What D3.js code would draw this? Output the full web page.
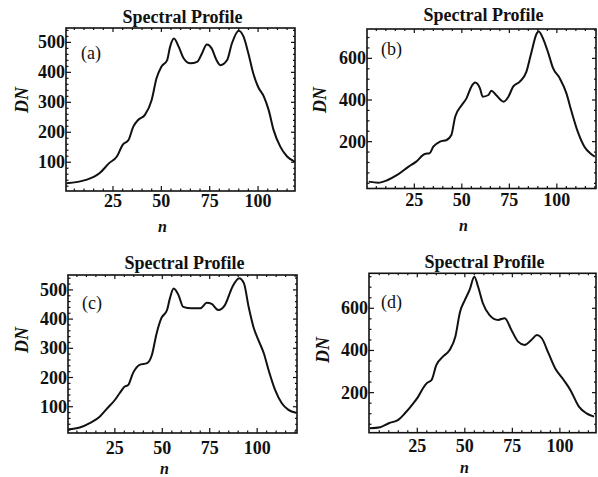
<!DOCTYPE html>
<html><head><meta charset="utf-8">
<script src="https://cdn.jsdelivr.net/npm/d3@7"></script>
<style>body{margin:0;background:#fff}svg{display:block}</style>
</head><body>
<script>
// ---- data ----
const titleText = "Spectral Profile";
const panelLabels = ["(a)", "(b)", "(c)", "(d)"];
const xTicks = [25, 50, 75, 100];
const yTicksSmall = [100, 200, 300, 400, 500];
const yTicksLarge = [200, 400, 600];

const nA = [1,11,18,23,27,30,33,35.5,38,41.5,45,47.5,50,53,54.5,56.5,59,61.5,65,68.5,71,73.5,76,78.5,80.5,84,86.5,90,92.5,95,97.5,100,103,105.5,108,111.5,115,119];
const dnA = [30,41,63,97,119,158,174,219,241,258,308,380,419,441,485,513,485,447,430,435,463,493,480,441,424,441,497,539,519,463,397,352,319,274,208,152,119,102];

const nB = [1,6,11,16,22,26,30.5,33,35,38.5,42,44.5,46.5,50,52.5,55,57,59.5,61,64,65.5,68,72,74.5,77,80.5,84,86.5,89.5,90.5,93,95.5,98,101.5,105,107.5,111,114.5,118,120];
const dnB = [8,3,16,40,80,104,141,144,176,200,208,232,320,376,409,464,484,457,416,424,445,424,392,416,464,488,536,625,721,729,689,625,553,505,433,352,248,176,141,128];

const nC = [0.5,6.5,12,17,20.5,25,27.5,30,32,34.5,38,42,44.5,47,49.5,52.5,54,56,58.5,61,65.5,70,73.5,76,79.5,83,87,90.5,93,95.5,98,101,103.5,106,109.5,113,116.5,120.5];
const dnC = [23,29,45,66,91,123,146,168,174,214,243,249,277,351,403,431,471,505,483,442,437,437,456,452,431,448,511,540,523,442,374,323,283,226,157,112,89,79];

const nD = [0,5.5,10,15,18.5,23,25.5,28,30,32.5,35,38.5,42,45,47.5,50,52.5,55,57,59.5,63,67.5,71,74.5,78,81.5,85,88,90.5,94,97.5,102,105.5,110,114,118];
const dnD = [31,36,55,71,102,150,181,221,245,260,331,371,402,465,584,639,687,750,702,624,568,545,553,497,442,426,450,473,458,387,316,260,213,134,102,86];

// ---- layout ----
const panels = [
  {n:nA, v:dnA, lab:panelLabels[0], xd:[0.7,119.1], xr:[66,295], yd:[4,548], yr:[191,28], yt:yTicksSmall, ym:20,
   titleY:23, xlabY:207, nY:232, dnX:22, dnY:100, plX:81, plY:59},
  {n:nB, v:dnB, lab:panelLabels[1], xd:[0.1,120.6], xr:[367,596], yd:[-25,741], yr:[188.5,29], yt:yTicksLarge, ym:50,
   titleY:21, xlabY:206, nY:231, dnX:320, dnY:100, plX:381, plY:55},
  {n:nC, v:dnC, lab:panelLabels[2], xd:[0.3,121], xr:[68,297], yd:[10,551], yr:[433,275], yt:yTicksSmall, ym:20,
   titleY:269, xlabY:454, nY:474, dnX:22, dnY:340, plX:82, plY:309},
  {n:nD, v:dnD, lab:panelLabels[3], xd:[-0.4,119], xr:[369,596], yd:[10,766], yr:[432.7,273.3], yt:yTicksLarge, ym:50,
   titleY:268, xlabY:452, nY:473, dnX:323, dnY:350, plX:381, plY:308}
];

const svg = d3.select("body").append("svg").attr("width",598).attr("height",477);
const serif = "'Liberation Serif','DejaVu Serif',serif";

panels.forEach(p => {
  const x = d3.scaleLinear().domain(p.xd).range(p.xr);
  const y = d3.scaleLinear().domain(p.yd).range(p.yr);
  const g = svg.append("g");
  const [x0,x1] = p.xr, [y0,y1] = p.yr; // y0 bottom, y1 top

  // minor + major ticks (inward, all four sides)
  const xMinor = d3.range(5, 121, 5).filter(t => t>=p.xd[0] && t<=p.xd[1] && !xTicks.includes(t));
  const yMinor = d3.range(0, 800, p.ym).filter(t => t>=p.yd[0] && t<=p.yd[1] && !p.yt.includes(t));
  const tk = g.append("g").attr("stroke","#111").attr("stroke-width",1.2);
  xTicks.forEach(t => {
    tk.append("line").attr("x1",x(t)).attr("x2",x(t)).attr("y1",y0).attr("y2",y0-5);
    tk.append("line").attr("x1",x(t)).attr("x2",x(t)).attr("y1",y1).attr("y2",y1+4);
  });
  xMinor.forEach(t => {
    tk.append("line").attr("x1",x(t)).attr("x2",x(t)).attr("y1",y0).attr("y2",y0-2.5);
    tk.append("line").attr("x1",x(t)).attr("x2",x(t)).attr("y1",y1).attr("y2",y1+2);
  });
  p.yt.forEach(t => {
    tk.append("line").attr("y1",y(t)).attr("y2",y(t)).attr("x1",x0).attr("x2",x0+5);
    tk.append("line").attr("y1",y(t)).attr("y2",y(t)).attr("x1",x1).attr("x2",x1-4);
  });
  yMinor.forEach(t => {
    tk.append("line").attr("y1",y(t)).attr("y2",y(t)).attr("x1",x0).attr("x2",x0+2.5);
    tk.append("line").attr("y1",y(t)).attr("y2",y(t)).attr("x1",x1).attr("x2",x1-2);
  });

  // frame
  g.append("rect").attr("x",x0).attr("y",y1).attr("width",x1-x0).attr("height",y0-y1)
    .attr("fill","none").attr("stroke","#111").attr("stroke-width",1.6);

  // curve
  const line = d3.line().x((d,i)=>x(p.n[i])).y(d=>y(d)).curve(d3.curveMonotoneX);
  g.append("path").attr("d", line(p.v)).attr("fill","none").attr("stroke","#111")
    .attr("stroke-width",2).attr("stroke-linejoin","round");

  // tick labels
  const txt = g.append("g").attr("font-family",serif).attr("font-size",18).attr("font-weight","bold").attr("fill","#111");
  xTicks.forEach(t => txt.append("text").attr("x",x(t)).attr("y",p.xlabY).attr("text-anchor","middle").text(t));
  p.yt.forEach(t => txt.append("text").attr("x",x0-1).attr("y",y(t)+6).attr("text-anchor","end").text(t));

  // title
  g.append("text").attr("x",(x0+x1)/2+2).attr("y",p.titleY).attr("text-anchor","middle")
    .attr("font-family",serif).attr("font-size",18).attr("font-weight","bold").attr("fill","#111").text(titleText);
  // axis labels
  g.append("text").attr("x",(x0+x1)/2-18).attr("y",p.nY).attr("text-anchor","middle")
    .attr("font-family",serif).attr("font-size",16).attr("font-style","italic").attr("font-weight","bold").attr("fill","#111").text("n");
  g.append("text").attr("transform",`translate(${p.dnX+6},${p.dnY}) rotate(-90)`).attr("text-anchor","middle")
    .attr("font-family",serif).attr("font-size",18).attr("font-style","italic").attr("font-weight","bold").attr("fill","#111").text("DN");
  // panel label
  g.append("text").attr("x",p.plX).attr("y",p.plY).attr("font-family",serif).attr("font-size",18)
    .attr("fill","#111").text(p.lab);
});
</script>
</body></html>
